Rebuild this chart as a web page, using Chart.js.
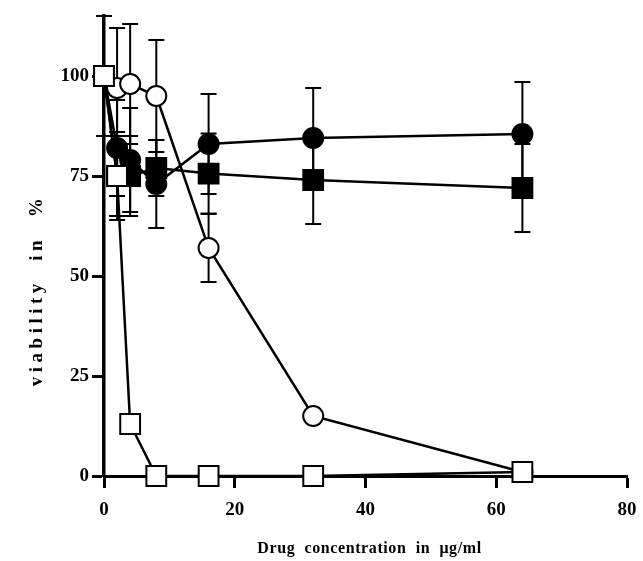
<!DOCTYPE html>
<html>
<head>
<meta charset="utf-8">
<script src="https://cdn.jsdelivr.net/npm/chart.js@4.4.1/dist/chart.umd.min.js"></script>
<style>
  html, body { margin: 0; padding: 0; background: #fff; }
  #wrap { width: 643px; height: 561px; }
</style>
</head>
<body>
<div id="wrap"><canvas id="chart" width="643" height="561"></canvas></div>
<script>
// drug concentration (µg/ml) and viability (%) per series, with error sizes
const conc = [0, 2, 4, 8, 16, 32, 64];
const openCircle = [100, 97, 98, 95, 57, 15, 1];
const openCircleErr = [0, 15, 15, 14, 8.5, 0, 0];
const openSquare = [100, 75, 13, 0, 0, 0, 1];
const openSquareErr = [15, 11, 0, 0, 0, 0, 0];
const filledCircle = [100, 82, 79, 73, 83, 84.5, 85.5];
const filledCircleErr = [0, 12, 13, 11, 12.5, 12.5, 13];
const filledSquare = [100, 75, 75, 77, 75.6, 74, 72];
const filledSquareErr = [0, 10, 10, 7, 10, 11, 11];
const xTicks = [0, 20, 40, 60, 80];
const yTicks = [0, 25, 50, 75, 100];
const xTitle = 'Drug  concentration  in  \u03bcg/ml';
const yTitle = 'viability  in  %';

const FONT = '"Liberation Serif", "DejaVu Serif", serif';

function pts(vals) {
  return conc.map((c, i) => ({ x: c, y: vals[i] }));
}

const errorBars = {
  id: 'errorBars',
  beforeDatasetsDraw(chart) {
    const { ctx, scales: { x, y } } = chart;
    ctx.save();
    ctx.strokeStyle = '#000';
    ctx.lineWidth = 2;
    chart.data.datasets.forEach(ds => {
      ds.data.forEach((p, i) => {
        const e = ds.errors[i];
        if (!e) return;
        const px = x.getPixelForValue(p.x);
        const top = y.getPixelForValue(p.y + e);
        const bot = y.getPixelForValue(p.y - e);
        ctx.beginPath();
        ctx.moveTo(px, top); ctx.lineTo(px, bot);
        ctx.moveTo(px - 8, top); ctx.lineTo(px + 8, top);
        ctx.moveTo(px - 8, bot); ctx.lineTo(px + 8, bot);
        ctx.stroke();
      });
    });
    ctx.restore();
  }
};

const axisTitles = {
  id: 'axisTitles',
  afterDraw(chart) {
    const { ctx, chartArea } = chart;
    ctx.save();
    ctx.fillStyle = '#000';
    ctx.textAlign = 'center';
    ctx.textBaseline = 'middle';
    ctx.font = 'bold 16px ' + FONT;
    ctx.letterSpacing = '0.6px';
    ctx.fillText(xTitle, (chartArea.left + chartArea.right) / 2 + 4, 549);
    ctx.font = 'bold 19px ' + FONT;
    ctx.letterSpacing = '4.5px';
    ctx.translate(37, 290);
    ctx.rotate(-Math.PI / 2);
    ctx.fillText(yTitle, 0, 0);
    ctx.restore();
  }
};

function series(vals, errs, style, radius, fill, order) {
  return {
    data: pts(vals),
    errors: errs,
    order,
    showLine: true,
    borderColor: '#000',
    borderWidth: 2.5,
    pointStyle: style,
    pointRadius: radius,
    pointBackgroundColor: fill,
    pointBorderColor: '#000',
    pointBorderWidth: 2,
    clip: false
  };
}

new Chart(document.getElementById('chart'), {
  type: 'line',
  data: {
    datasets: [
      series(openSquare, openSquareErr, 'rect', 14, '#fff', 1),
      series(openCircle, openCircleErr, 'circle', 10, '#fff', 2),
      series(filledCircle, filledCircleErr, 'circle', 10, '#000', 3),
      series(filledSquare, filledSquareErr, 'rect', 14, '#000', 4)
    ]
  },
  options: {
    responsive: false,
    animation: false,
    layout: { padding: { left: 0, right: 15, top: 15, bottom: 0 } },
    plugins: { legend: { display: false }, tooltip: { enabled: false } },
    scales: {
      x: {
        type: 'linear', min: 0, max: 80,
        afterBuildTicks: s => { s.ticks = xTicks.map(v => ({ value: v })); },
        afterFit: s => { s.height = 85; s.paddingLeft = 0; s.paddingRight = 0; },
        grid: { drawOnChartArea: false, tickLength: 12, tickWidth: 3, color: '#000' },
        border: { width: 3, color: '#000' },
        ticks: { color: '#000', padding: 11, maxRotation: 0, font: { family: FONT, weight: 'bold', size: 19 } }
      },
      y: {
        type: 'linear', min: 0, max: 115,
        afterBuildTicks: s => { s.ticks = yTicks.map(v => ({ value: v })); },
        afterFit: s => { s.width = 104; s.paddingTop = 0; s.paddingBottom = 0; },
        grid: { drawOnChartArea: false, tickLength: 12, tickWidth: 3, color: '#000' },
        border: { width: 3.5, color: '#000' },
        ticks: { color: '#000', padding: 3, font: { family: FONT, weight: 'bold', size: 19 } }
      }
    }
  },
  plugins: [errorBars, axisTitles]
});
</script>
</body>
</html>
